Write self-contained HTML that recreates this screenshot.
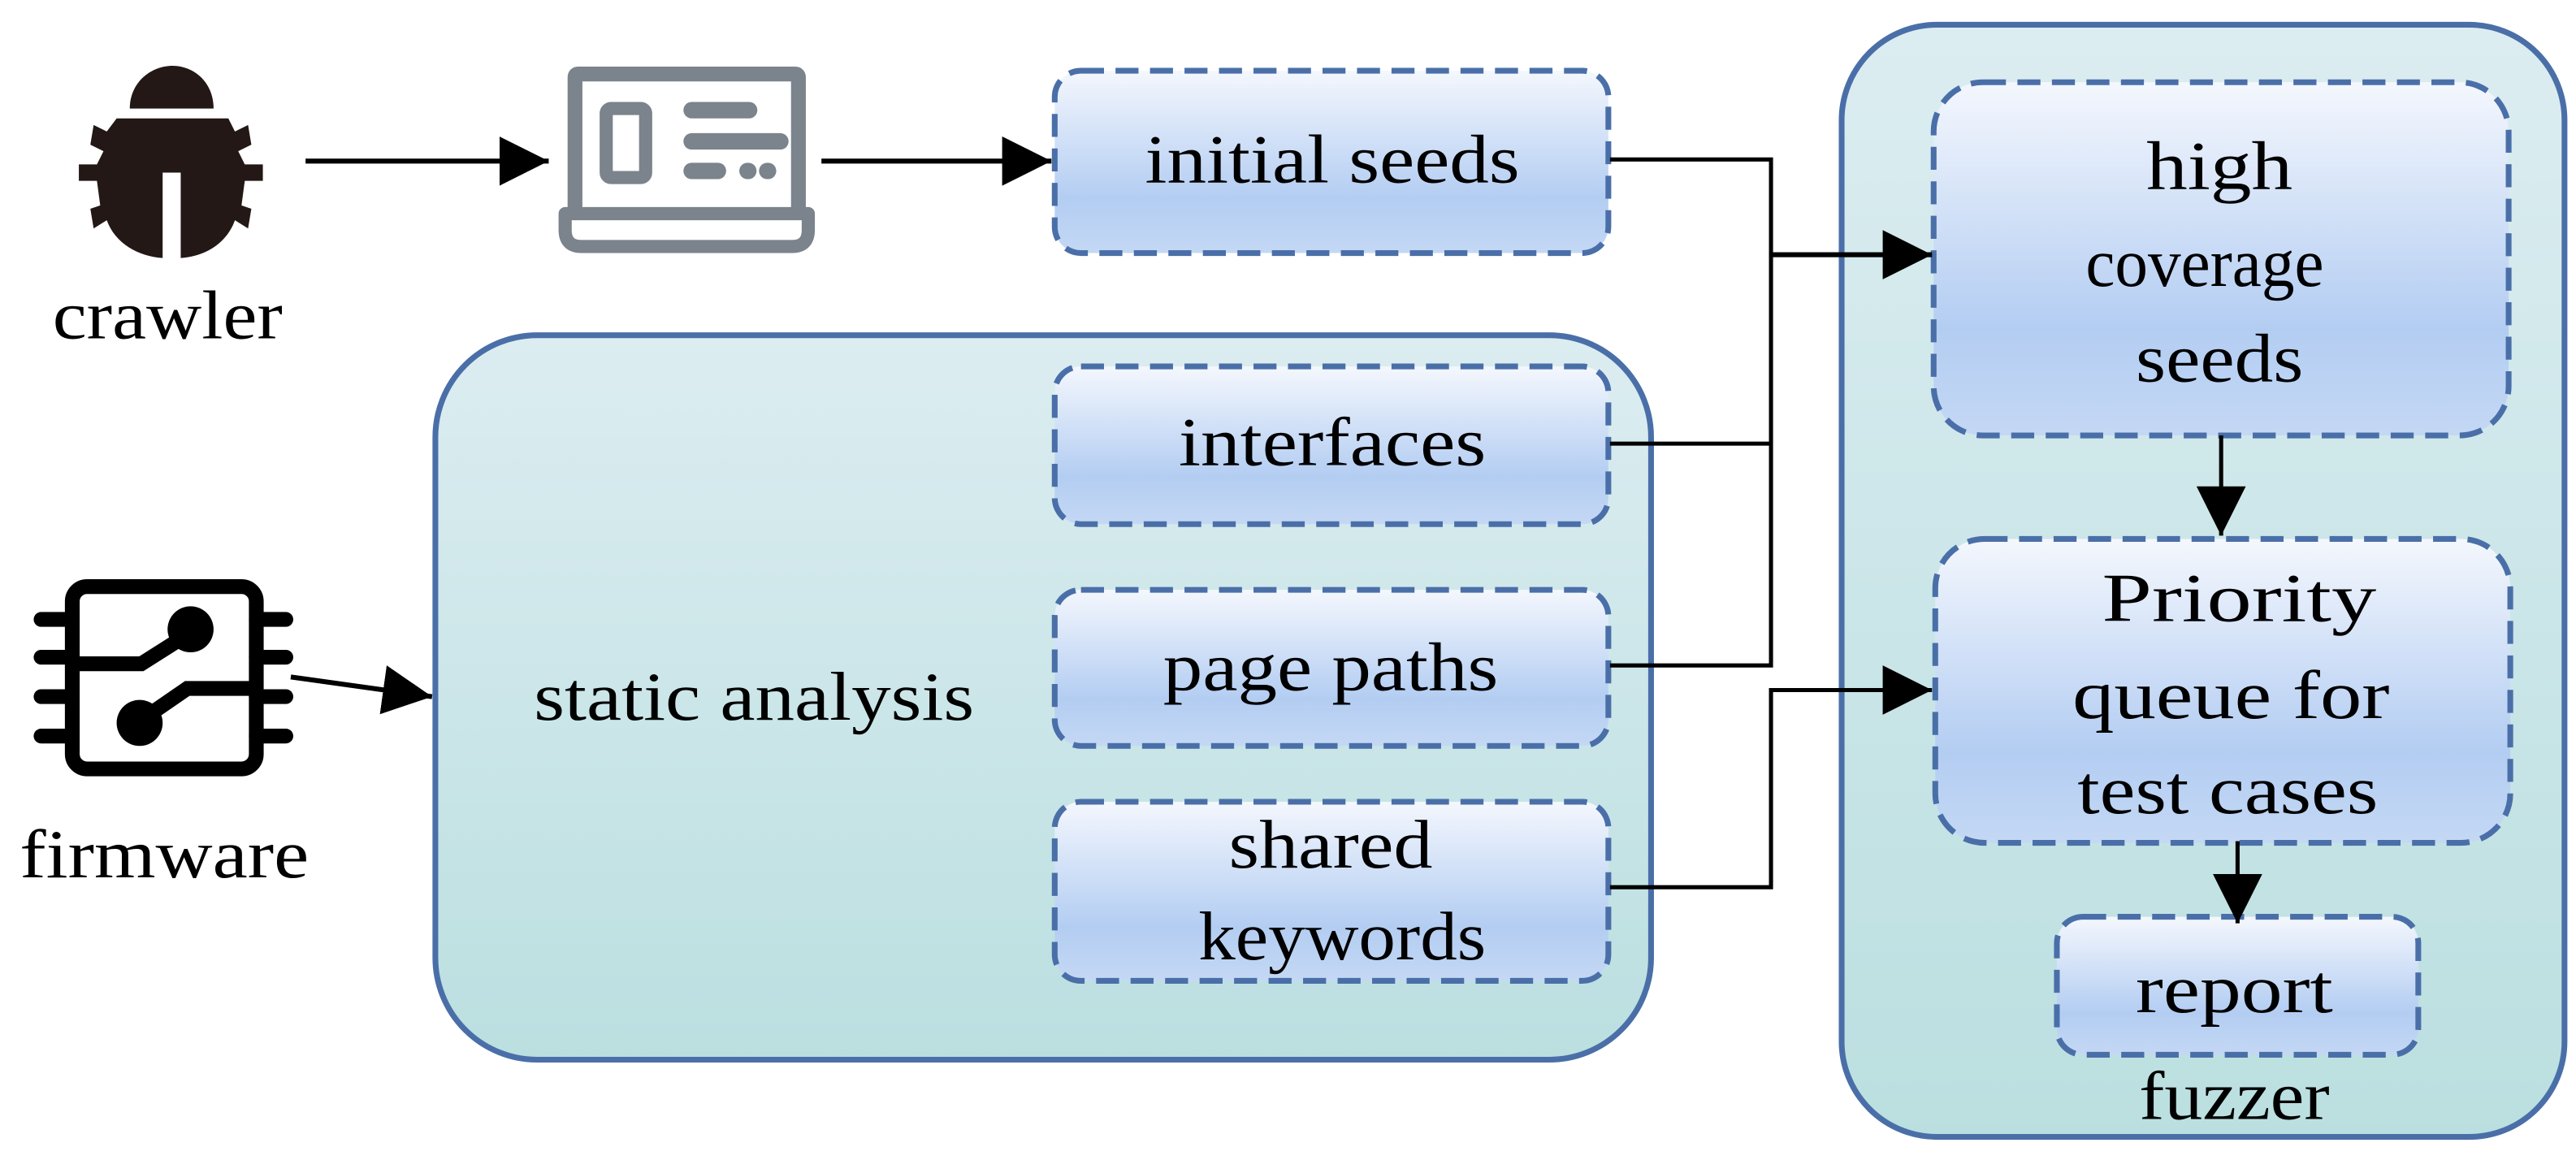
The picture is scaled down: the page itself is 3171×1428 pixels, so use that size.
<!DOCTYPE html>
<html><head><meta charset="utf-8"><style>html,body{margin:0;padding:0;background:#fff;}svg{display:block}text{font-family:"Liberation Serif",serif;font-size:42px;fill:#000}</style></head>
<body>
<svg width="3171" height="1428" viewBox="0 0 1568 706" xmlns="http://www.w3.org/2000/svg">
<defs>
<linearGradient id="bg" x1="0" y1="0" x2="0" y2="1"><stop offset="0" stop-color="#dcedf1"/><stop offset="1" stop-color="#bbdfe0"/></linearGradient>
<linearGradient id="bx" x1="0" y1="0" x2="0" y2="1"><stop offset="0" stop-color="#f4f7fd"/><stop offset="0.7" stop-color="#b3cdf2"/><stop offset="1" stop-color="#c4d8f4"/></linearGradient>
<marker id="ar" markerWidth="30" markerHeight="30" refX="10" refY="5" orient="auto" markerUnits="userSpaceOnUse" viewBox="0 0 10 10"><path d="M0,0 L10,5 L0,10 z" fill="#000"/></marker>
</defs>
<rect x="265" y="204" width="740" height="441" rx="62" fill="url(#bg)" stroke="#4a6fa8" stroke-width="3.5"/>
<rect x="1121" y="15" width="440" height="677" rx="58" fill="url(#bg)" stroke="#4a6fa8" stroke-width="3.5"/>

<g fill="url(#bx)" stroke="#4a6fa8" stroke-width="3.5" stroke-dasharray="14,7">
<rect x="642" y="43" width="337" height="111" rx="16"/>
<rect x="642" y="223" width="337" height="96" rx="16"/>
<rect x="642" y="359" width="337" height="95" rx="16"/>
<rect x="642" y="488" width="337" height="109" rx="16"/>
<rect x="1177" y="50" width="350" height="215" rx="30"/>
<rect x="1178" y="328" width="350" height="185" rx="30"/>
<rect x="1252" y="558" width="220" height="84" rx="16"/>
</g>

<g stroke="#000" stroke-width="3" fill="none">
<line x1="186" y1="98" x2="334" y2="98" marker-end="url(#ar)"/>
<line x1="500" y1="98" x2="640" y2="98" marker-end="url(#ar)"/>
<line x1="177" y1="412" x2="263" y2="424" marker-end="url(#ar)"/>
<polyline points="980,97 1078,97 1078,405 980,405" stroke-width="2.5"/>
<line x1="980" y1="270" x2="1078" y2="270" stroke-width="2.5"/>
<line x1="1078" y1="155" x2="1176" y2="155" marker-end="url(#ar)"/>
<polyline points="980,540 1078,540 1078,420 1176,420" marker-end="url(#ar)" stroke-width="2.5"/>
<line x1="1352" y1="265" x2="1352" y2="326" marker-end="url(#ar)" stroke-width="2.5"/>
<line x1="1362" y1="512" x2="1362" y2="562" marker-end="url(#ar)" stroke-width="2.5"/>
</g>

<g fill="#231815">
<path d="M79,66 C79,50 92,40 105,40 C118,40 130,50 130,66 Z"/>
<path d="M71,72 L139,72 L143,80 L151,76 L153,88 L145,92 L149,100 L160,100 L160,110 L149,110 L147,125 L153,127 L151,139 L143,134 C138,148 125,156 110,157 L110,105 L99,105 L99,157 C84,156 70,148 65,134 L57,139 L55,127 L61,125 L59,110 L48,110 L48,100 L59,100 L63,92 L55,88 L57,76 L65,80 Z"/>
</g>

<g fill="none" stroke="#7b838c" stroke-linecap="round">
<path d="M350,130 L350,47 Q350,45 352,45 L484,45 Q486,45 486,47 L486,130" stroke-width="9" stroke-linecap="butt"/>
<path d="M344,130 L492,130 L492,140 Q492,150 482,150 L354,150 Q344,150 344,140 Z" stroke-width="8" stroke-linejoin="round"/>
<rect x="369" y="66" width="24" height="42" rx="3" stroke-width="8"/>
<line x1="421" y1="67" x2="456" y2="67" stroke-width="10"/>
<line x1="421" y1="86" x2="475" y2="86" stroke-width="10"/>
<line x1="421" y1="104" x2="437" y2="104" stroke-width="10"/>
<line x1="455" y1="104" x2="455.5" y2="104" stroke-width="10"/>
<line x1="467" y1="104" x2="467.5" y2="104" stroke-width="10"/>
</g>

<g stroke="#000" fill="none" stroke-linecap="round">
<rect x="44" y="357" width="112" height="111" rx="9" stroke-width="9"/>
<g stroke-width="9">
<line x1="25" y1="377" x2="44" y2="377"/><line x1="25" y1="400" x2="44" y2="400"/><line x1="25" y1="424" x2="44" y2="424"/><line x1="25" y1="448" x2="44" y2="448"/>
<line x1="156" y1="377" x2="174" y2="377"/><line x1="156" y1="400" x2="174" y2="400"/><line x1="156" y1="424" x2="174" y2="424"/><line x1="156" y1="448" x2="174" y2="448"/>
</g>
<polyline points="48,404 86,404 116,385" stroke-width="9" stroke-linecap="butt"/>
<polyline points="152,419 114,419 85,439" stroke-width="9" stroke-linecap="butt"/>
</g>
<circle cx="116" cy="383" r="14" fill="#000"/>
<circle cx="85" cy="440" r="14" fill="#000"/>

<text x="102" y="206" text-anchor="middle" textLength="140" lengthAdjust="spacingAndGlyphs">crawler</text>
<text x="100" y="534" text-anchor="middle" textLength="176" lengthAdjust="spacingAndGlyphs">firmware</text>
<text x="811" y="111" text-anchor="middle" textLength="228" lengthAdjust="spacingAndGlyphs">initial seeds</text>
<text x="459" y="438" text-anchor="middle" textLength="268" lengthAdjust="spacingAndGlyphs">static analysis</text>
<text x="811" y="283" text-anchor="middle" textLength="187" lengthAdjust="spacingAndGlyphs">interfaces</text>
<text x="810" y="420" text-anchor="middle" textLength="204" lengthAdjust="spacingAndGlyphs">page paths</text>
<text x="810" y="528" text-anchor="middle" textLength="124" lengthAdjust="spacingAndGlyphs">shared</text>
<text x="817" y="584" text-anchor="middle" textLength="175" lengthAdjust="spacingAndGlyphs">keywords</text>
<text x="1351" y="115" text-anchor="middle" textLength="89" lengthAdjust="spacingAndGlyphs">high</text>
<text x="1342" y="174" text-anchor="middle" textLength="145" lengthAdjust="spacingAndGlyphs">coverage</text>
<text x="1351" y="232" text-anchor="middle" textLength="102" lengthAdjust="spacingAndGlyphs">seeds</text>
<text x="1363" y="378" text-anchor="middle" textLength="167" lengthAdjust="spacingAndGlyphs">Priority</text>
<text x="1358" y="437" text-anchor="middle" textLength="193" lengthAdjust="spacingAndGlyphs">queue for</text>
<text x="1356" y="495" text-anchor="middle" textLength="183" lengthAdjust="spacingAndGlyphs">test cases</text>
<text x="1360" y="616" text-anchor="middle" textLength="120" lengthAdjust="spacingAndGlyphs">report</text>
<text x="1360" y="681" text-anchor="middle" textLength="116" lengthAdjust="spacingAndGlyphs">fuzzer</text>
</svg>
</body></html>
